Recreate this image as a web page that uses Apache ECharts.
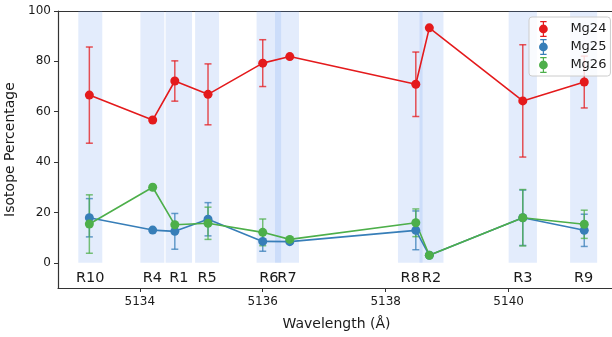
<!DOCTYPE html>
<html><head><meta charset="utf-8">
<script src="https://cdn.jsdelivr.net/npm/echarts@6/dist/echarts.min.js"></script>
<style>html,body{margin:0;padding:0;background:#fff}#c{width:612px;height:337px}</style>
</head><body><div id="c"></div>
<script>
var regions = ['R10','R4','R1','R5','R6','R7','R8','R2','R3','R9'];
var wavelengths = [5133.18,5134.21,5134.57,5135.11,5136.00,5136.44,5138.49,5138.71,5140.23,5141.23];
var bandStart = [5133.00,5134.01,5134.42,5134.90,5135.90,5136.20,5138.20,5138.55,5140.00,5141.00];
var bandEnd   = [5133.39,5134.40,5134.85,5135.29,5136.30,5136.59,5138.60,5138.94,5140.46,5141.44];
var mg24    = [66.6,56.7,72.2,66.9,79.3,81.9,70.9,93.3,64.3,71.8];
var mg24err = [19.1,null,8.0,12.1,9.3,null,12.8,null,22.3,10.3];
var mg25    = [17.9,13.0,12.5,17.3,8.5,8.4,12.9,3.0,17.9,12.9];
var mg25err = [7.6,null,7.1,6.6,3.9,null,7.7,null,11.0,6.4];
var mg26    = [15.4,30.0,15.1,15.7,12.1,9.3,15.9,3.0,17.9,15.3];
var mg26err = [11.6,null,null,6.4,5.3,null,5.5,null,11.2,5.6];
var yTicks = [0,20,40,60,80,100];
var xTicks = [5134,5136,5138,5140];

var C24='#e41a1c', C25='#377eb8', C26='#4daf4a';
var FONT='DejaVu Sans';
var chart = echarts.init(document.getElementById('c'));

function pts(vals){ return wavelengths.map(function(w,i){return [w, vals[i]];}); }
function errData(vals, errs){
  var out=[];
  wavelengths.forEach(function(w,i){ if(errs[i]!=null) out.push([w, vals[i]-errs[i], vals[i]+errs[i]]); });
  return out;
}
function errSeries(name, vals, errs, color){
  return {
    name: name, type:'custom', z:3,
    data: errData(vals, errs),
    encode:{x:0,y:[1,2]},
    renderItem: function(params, api){
      var x=api.value(0), lo=api.coord([x, api.value(1)]), hi=api.coord([x, api.value(2)]);
      var st={stroke:color, lineWidth:1.5, opacity:0.75};
      return {type:'group', children:[
        {type:'line', shape:{x1:lo[0],y1:lo[1],x2:hi[0],y2:hi[1]}, style:st},
        {type:'line', shape:{x1:lo[0]-3.5,y1:lo[1],x2:lo[0]+3.5,y2:lo[1]}, style:st},
        {type:'line', shape:{x1:hi[0]-3.5,y1:hi[1],x2:hi[0]+3.5,y2:hi[1]}, style:st}
      ]};
    }
  };
}
function lineSeries(name, vals, color){
  return {name:name, type:'line', data:pts(vals), symbol:'circle', symbolSize:9,
    itemStyle:{color:color}, lineStyle:{color:color,width:1.6}, z:4, animation:false};
}
var bandSeries = {
  type:'custom', z:1, silent:true,
  data: regions.map(function(r,i){return [bandStart[i], bandEnd[i]];}),
  encode:{x:[0,1]},
  renderItem:function(params, api){
    var a=api.coord([api.value(0),0]), b=api.coord([api.value(1),100]);
    return {type:'rect', shape:{x:a[0],y:b[1],width:b[0]-a[0],height:a[1]-b[1]},
      style:{fill:'rgba(100,149,237,0.18)'}};
  }
};
var labelSeries = {
  type:'custom', z:5, silent:true,
  data: regions.map(function(r,i){return [(bandStart[i]+bandEnd[i])/2, -6, r];}),
  encode:{x:0,y:1},
  renderItem:function(params, api){
    var p=api.coord([api.value(0), api.value(1)]);
    return {type:'text', x:p[0], y:p[1], style:{text:regions[params.dataIndex], fill:'#1a1a1a',
      font:'14.5px "'+FONT+'"', align:'center', verticalAlign:'middle'}};
  }
};
var icon='path://M6,0H14V1.5H10.75V18.5H14V20H6V18.5H9.25V1.5H6Z M15.5,10A5.5,5.5 0 1 1 4.5,10A5.5,5.5 0 1 1 15.5,10Z';

chart.setOption({
  animation:false,
  textStyle:{fontFamily:FONT},
  grid:{left:58, right:-3, top:11, bottom:49, containLabel:false, outerBoundsMode:'none'},
  xAxis:[{
    type:'value', min:5132.67, max:5141.73,
    name:'Wavelength (Å)', nameLocation:'middle', nameGap:29,
    nameTextStyle:{fontSize:14, color:'#1a1a1a', fontFamily:FONT},
    axisLine:{show:true, onZero:false, lineStyle:{color:'#333', width:1.2}},
    axisTick:{show:true, length:4, lineStyle:{color:'#333'}, customValues:xTicks},
    axisLabel:{fontSize:12, color:'#1a1a1a', margin:8, customValues:xTicks, formatter:function(v){return String(v);}},
    splitLine:{show:false}
  },{
    type:'value', position:'top', min:5132.67, max:5141.73,
    axisLine:{show:true, onZero:false, lineStyle:{color:'#333', width:1.2}},
    axisTick:{show:false}, axisLabel:{show:false}, splitLine:{show:false}
  }],
  yAxis:{
    type:'value', min:-10, max:100,
    name:'Isotope Percentage', nameLocation:'middle', nameGap:38,
    nameTextStyle:{fontSize:14, color:'#1a1a1a', fontFamily:FONT},
    axisLine:{show:true, onZero:false, lineStyle:{color:'#333', width:1.2}},
    axisTick:{show:true, length:4, lineStyle:{color:'#333'}, customValues:yTicks},
    axisLabel:{fontSize:12, color:'#1a1a1a', margin:7, customValues:yTicks},
    splitLine:{show:false}
  },
  legend:{
    orient:'vertical', left:529, top:17, padding:[4,4,3,10], itemGap:2,
    itemWidth:14, itemHeight:16,
    backgroundColor:'rgba(255,255,255,0.8)', borderColor:'#ccc', borderWidth:1, borderRadius:3,
    textStyle:{fontSize:13, color:'#1a1a1a', fontFamily:FONT, padding:[0,0,0,15]},
    data:[{name:'Mg24', icon:icon, itemStyle:{color:C24}},
          {name:'Mg25', icon:icon, itemStyle:{color:C25}},
          {name:'Mg26', icon:icon, itemStyle:{color:C26}}]
  },
  series:[
    bandSeries, labelSeries,
    errSeries('Mg24', mg24, mg24err, C24),
    errSeries('Mg25', mg25, mg25err, C25),
    errSeries('Mg26', mg26, mg26err, C26),
    lineSeries('Mg24', mg24, C24),
    lineSeries('Mg25', mg25, C25),
    lineSeries('Mg26', mg26, C26)
  ]
});
</script></body></html>
